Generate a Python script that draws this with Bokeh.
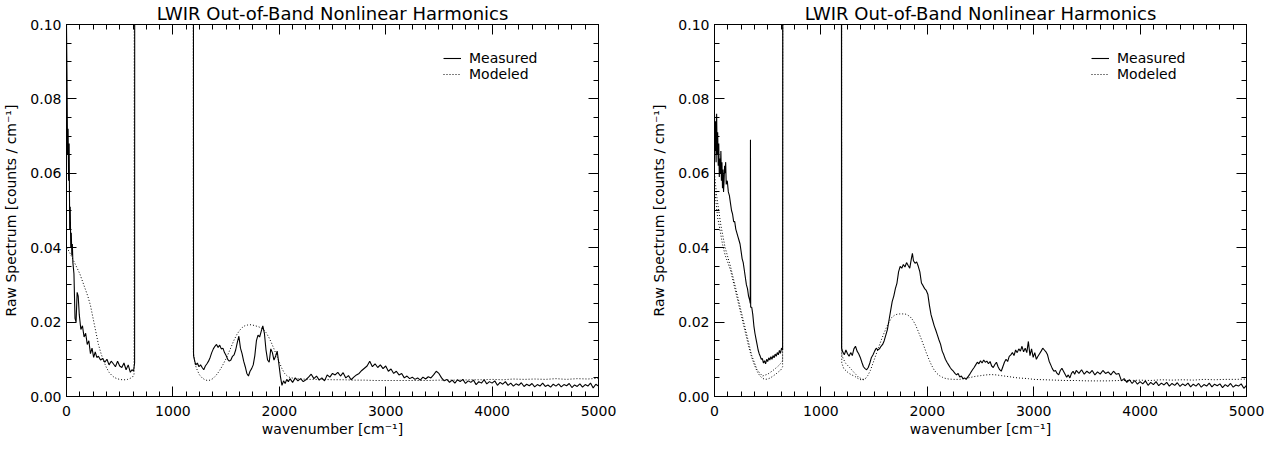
from bokeh.plotting import figure
from bokeh.models import (LinearAxis, SingleIntervalTicker, PrintfTickFormatter,
                          Range1d, Legend, LegendItem)
from bokeh.layouts import row
from bokeh.embed import file_html
from bokeh.resources import INLINE

FONT = "DejaVu Sans"
TITLE = "LWIR Out-of-Band Nonlinear Harmonics"
XLABEL = "wavenumber [cm\u207b\u00b9]"
YLABEL = "Raw Spectrum [counts / cm\u207b\u00b9]"
LEGEND_LABELS = ["Measured", "Modeled"]
X_TICKS_MAJOR = 1000
Y_TICKS_MAJOR = 0.02

# ---------------- left panel: measured (wavenumber, counts) ----------------
meas_left = [
    (0, 0.100), (5, 0.085), (10, 0.065), (15, 0.072), (20, 0.058), (25, 0.068),
    (30, 0.045), (35, 0.051), (40, 0.040), (45, 0.044), (50, 0.038), (55, 0.041),
    (60, 0.036), (70, 0.033), (80, 0.021), (90, 0.020), (100, 0.028), (110, 0.027),
    (120, 0.022), (135, 0.018), (150, 0.019), (165, 0.016), (180, 0.017), (195, 0.014),
    (210, 0.015), (225, 0.0115), (240, 0.013), (255, 0.0105), (270, 0.012), (285, 0.0105),
    (300, 0.0108), (320, 0.0098), (340, 0.0102), (360, 0.0092), (380, 0.0100), (400, 0.0085),
    (420, 0.0095), (440, 0.0088), (460, 0.0080), (480, 0.0095), (500, 0.0082), (520, 0.0078),
    (540, 0.0090), (560, 0.0072), (580, 0.0085), (600, 0.0065), (615, 0.0072), (630, 0.0068),
    (640, 0.0090), (645, 0.5), (1190, 0.5),
    (1194, 0.011), (1205, 0.0095), (1215, 0.0085), (1230, 0.0090), (1245, 0.0080), (1260, 0.0085),
    (1275, 0.0078), (1290, 0.0072), (1305, 0.0082), (1320, 0.0088), (1335, 0.0095), (1350, 0.0105),
    (1365, 0.0118), (1380, 0.0128), (1395, 0.0135), (1410, 0.0140), (1425, 0.0132), (1440, 0.0138),
    (1455, 0.0128), (1470, 0.0130), (1485, 0.0118), (1500, 0.0110), (1515, 0.0100), (1530, 0.0095),
    (1545, 0.0098), (1560, 0.0108), (1575, 0.0112), (1590, 0.0125), (1605, 0.0145), (1620, 0.0162),
    (1635, 0.0130), (1650, 0.0115), (1665, 0.0095), (1680, 0.0080), (1695, 0.0062), (1710, 0.0055),
    (1725, 0.0068), (1740, 0.0075), (1755, 0.0085), (1770, 0.0110), (1785, 0.0150), (1800, 0.0165),
    (1815, 0.0160), (1830, 0.0175), (1845, 0.0190), (1860, 0.0170), (1875, 0.0125), (1890, 0.0098),
    (1905, 0.0092), (1920, 0.0128), (1935, 0.0118), (1950, 0.0098), (1965, 0.0108), (1980, 0.0122),
    (1995, 0.0090), (2010, 0.0055), (2025, 0.0030), (2040, 0.0042), (2055, 0.0035), (2070, 0.0046),
    (2085, 0.0040), (2100, 0.0048), (2125, 0.0038), (2150, 0.0050), (2175, 0.0042), (2200, 0.0048),
    (2225, 0.0040), (2250, 0.0045), (2275, 0.0052), (2300, 0.0060), (2325, 0.0048), (2350, 0.0055),
    (2375, 0.0044), (2400, 0.0050), (2425, 0.0042), (2450, 0.0058), (2475, 0.0052), (2500, 0.0062),
    (2525, 0.0058), (2550, 0.0065), (2575, 0.0055), (2600, 0.0064), (2625, 0.0050), (2650, 0.0056),
    (2675, 0.0045), (2700, 0.0052), (2725, 0.0058), (2750, 0.0062), (2775, 0.0070), (2800, 0.0076),
    (2825, 0.0082), (2850, 0.0095), (2875, 0.0080), (2900, 0.0088), (2925, 0.0078), (2950, 0.0085),
    (2975, 0.0075), (3000, 0.0082), (3025, 0.0068), (3050, 0.0074), (3075, 0.0062), (3100, 0.0068),
    (3125, 0.0058), (3150, 0.0062), (3175, 0.0050), (3200, 0.0055), (3225, 0.0048), (3250, 0.0052),
    (3275, 0.0046), (3300, 0.0050), (3325, 0.0044), (3350, 0.0052), (3375, 0.0047), (3400, 0.0053),
    (3425, 0.0050), (3450, 0.0058), (3475, 0.0068), (3500, 0.0062), (3525, 0.0050), (3550, 0.0042),
    (3575, 0.0046), (3600, 0.0038), (3625, 0.0044), (3650, 0.0036), (3675, 0.0045), (3700, 0.0040),
    (3725, 0.0046), (3750, 0.0035), (3775, 0.0042), (3800, 0.0038), (3825, 0.0044), (3850, 0.0032),
    (3875, 0.0040), (3900, 0.0036), (3925, 0.0045), (3950, 0.0034), (3975, 0.0040), (4000, 0.0036),
    (4025, 0.0042), (4050, 0.0030), (4075, 0.0038), (4100, 0.0033), (4125, 0.0040), (4150, 0.0030),
    (4175, 0.0036), (4200, 0.0028), (4225, 0.0034), (4250, 0.0030), (4275, 0.0037), (4300, 0.0027),
    (4325, 0.0033), (4350, 0.0029), (4375, 0.0035), (4400, 0.0026), (4425, 0.0032), (4450, 0.0028),
    (4475, 0.0036), (4500, 0.0027), (4525, 0.0031), (4550, 0.0025), (4575, 0.0033), (4600, 0.0028),
    (4625, 0.0034), (4650, 0.0026), (4675, 0.0032), (4700, 0.0029), (4725, 0.0035), (4750, 0.0024),
    (4775, 0.0031), (4800, 0.0027), (4825, 0.0034), (4850, 0.0025), (4875, 0.0032), (4900, 0.0028),
    (4925, 0.0036), (4950, 0.0023), (4975, 0.0033), (5000, 0.0028),
]

# ---------------- left panel: modeled ----------------
model_left = [
    (0, 0.040), (25, 0.039), (50, 0.0375), (75, 0.036), (100, 0.0345), (125, 0.033),
    (150, 0.031), (175, 0.029), (200, 0.027), (225, 0.0245), (250, 0.021), (275, 0.0175),
    (300, 0.014), (325, 0.0115), (350, 0.0095), (375, 0.0078), (400, 0.0065), (425, 0.0057),
    (450, 0.0051), (475, 0.0048), (500, 0.0046), (525, 0.0045), (550, 0.0045), (575, 0.0046),
    (600, 0.0049), (620, 0.0052), (635, 0.0060), (643, 0.5), (1188, 0.5),
    (1192, 0.012), (1210, 0.0085), (1230, 0.0070), (1250, 0.0058), (1275, 0.0050), (1300, 0.0045),
    (1325, 0.0043), (1350, 0.0044), (1375, 0.0048), (1400, 0.0055), (1425, 0.0064), (1450, 0.0075),
    (1475, 0.0088), (1500, 0.0102), (1525, 0.0118), (1550, 0.0135), (1575, 0.0152), (1600, 0.0166),
    (1625, 0.0177), (1650, 0.0185), (1675, 0.0190), (1700, 0.0192), (1725, 0.0193), (1750, 0.0192),
    (1775, 0.0190), (1800, 0.0188), (1825, 0.0185), (1850, 0.0180), (1875, 0.0172), (1900, 0.0160),
    (1925, 0.0145), (1950, 0.0128), (1975, 0.0110), (2000, 0.0092), (2025, 0.0075), (2050, 0.0062),
    (2075, 0.0055), (2100, 0.0051), (2150, 0.0048), (2200, 0.0047), (2300, 0.0046), (2400, 0.0046),
    (2500, 0.0045), (2600, 0.0045), (2700, 0.0044), (2800, 0.0044), (2900, 0.0043), (3000, 0.0043),
    (3100, 0.0043), (3200, 0.0043), (3300, 0.0043), (3400, 0.0043), (3500, 0.0044), (3600, 0.0044),
    (3700, 0.0044), (3800, 0.0045), (3900, 0.0045), (4000, 0.0046), (4100, 0.0045), (4200, 0.0047),
    (4300, 0.0046), (4400, 0.0047), (4500, 0.0046), (4600, 0.0048), (4700, 0.0046), (4800, 0.0048),
    (4900, 0.0047), (5000, 0.0049),
]

# ---------------- right panel: measured ----------------
meas_right = [
    (0, 0.076), (5, 0.066), (10, 0.074), (15, 0.063), (20, 0.076), (25, 0.065), (30, 0.071),
    (35, 0.062), (40, 0.068), (45, 0.059), (50, 0.064), (55, 0.060), (60, 0.066), (65, 0.058),
    (70, 0.063), (75, 0.056), (80, 0.061), (85, 0.055), (90, 0.058), (95, 0.062), (100, 0.060),
    (105, 0.063), (110, 0.057), (120, 0.058), (130, 0.055), (140, 0.054), (150, 0.052), (160, 0.050),
    (170, 0.049), (180, 0.047), (190, 0.047), (200, 0.045), (210, 0.044), (220, 0.043), (230, 0.042),
    (240, 0.041), (250, 0.039), (260, 0.037), (270, 0.036), (280, 0.034), (290, 0.032), (300, 0.030),
    (310, 0.029), (320, 0.027), (330, 0.026), (336, 0.025), (338, 0.069), (340, 0.024), (350, 0.024),
    (360, 0.022), (370, 0.019), (380, 0.017), (390, 0.0155), (400, 0.014), (410, 0.0125), (420, 0.0115),
    (430, 0.0108), (440, 0.0100), (450, 0.0102), (460, 0.0090), (470, 0.0096), (480, 0.0088),
    (490, 0.0100), (500, 0.0094), (510, 0.0104), (520, 0.0098), (530, 0.0107), (540, 0.0100),
    (550, 0.0110), (560, 0.0104), (570, 0.0114), (580, 0.0108), (590, 0.0118), (600, 0.0112),
    (610, 0.0124), (620, 0.0116), (630, 0.0130), (640, 0.0125), (648, 0.5), (1190, 0.5),
    (1194, 0.013), (1205, 0.0120), (1220, 0.0112), (1235, 0.0125), (1250, 0.0115), (1265, 0.0108),
    (1280, 0.0118), (1295, 0.0110), (1310, 0.0128), (1325, 0.0135), (1340, 0.0122), (1355, 0.0115),
    (1370, 0.0105), (1385, 0.0092), (1400, 0.0080), (1415, 0.0075), (1430, 0.0072), (1445, 0.0078),
    (1460, 0.0090), (1475, 0.0105), (1490, 0.0112), (1505, 0.0122), (1520, 0.0130), (1535, 0.0125),
    (1550, 0.0128), (1565, 0.0135), (1580, 0.0140), (1595, 0.0150), (1610, 0.0165), (1625, 0.0180),
    (1640, 0.0205), (1655, 0.0230), (1670, 0.0255), (1685, 0.0270), (1700, 0.0290), (1715, 0.0305),
    (1730, 0.0335), (1745, 0.0350), (1760, 0.0345), (1775, 0.0355), (1790, 0.0348), (1805, 0.0360),
    (1820, 0.0352), (1835, 0.0345), (1850, 0.0370), (1860, 0.0385), (1870, 0.0365), (1885, 0.0358),
    (1900, 0.0362), (1915, 0.0350), (1930, 0.0335), (1945, 0.0305), (1960, 0.0298), (1975, 0.0290),
    (1990, 0.0285), (2005, 0.0275), (2020, 0.0245), (2035, 0.0220), (2050, 0.0205), (2065, 0.0190),
    (2080, 0.0178), (2095, 0.0165), (2110, 0.0152), (2125, 0.0140), (2140, 0.0122), (2155, 0.0112),
    (2170, 0.0100), (2185, 0.0092), (2200, 0.0085), (2215, 0.0078), (2230, 0.0072), (2245, 0.0068),
    (2260, 0.0062), (2275, 0.0058), (2290, 0.0062), (2305, 0.0052), (2320, 0.0055), (2335, 0.0048),
    (2350, 0.0050), (2365, 0.0046), (2380, 0.0052), (2395, 0.0058), (2410, 0.0065), (2425, 0.0072),
    (2440, 0.0078), (2455, 0.0085), (2470, 0.0092), (2485, 0.0088), (2500, 0.0096), (2515, 0.0090),
    (2530, 0.0098), (2545, 0.0092), (2560, 0.0095), (2575, 0.0088), (2590, 0.0094), (2605, 0.0082),
    (2620, 0.0078), (2635, 0.0086), (2650, 0.0092), (2665, 0.0080), (2680, 0.0072), (2695, 0.0068),
    (2710, 0.0080), (2725, 0.0092), (2740, 0.0100), (2755, 0.0094), (2770, 0.0108), (2785, 0.0112),
    (2800, 0.0118), (2815, 0.0110), (2830, 0.0125), (2845, 0.0118), (2860, 0.0128), (2875, 0.0122),
    (2890, 0.0135), (2905, 0.0120), (2920, 0.0130), (2935, 0.0118), (2950, 0.0148), (2965, 0.0110),
    (2980, 0.0128), (2995, 0.0105), (3010, 0.0118), (3025, 0.0100), (3040, 0.0108), (3055, 0.0115),
    (3070, 0.0122), (3085, 0.0130), (3100, 0.0125), (3115, 0.0120), (3130, 0.0112), (3145, 0.0095),
    (3160, 0.0085), (3175, 0.0075), (3190, 0.0068), (3205, 0.0070), (3220, 0.0062), (3235, 0.0058),
    (3250, 0.0070), (3265, 0.0076), (3280, 0.0068), (3295, 0.0060), (3310, 0.0052), (3325, 0.0058),
    (3340, 0.0050), (3355, 0.0062), (3370, 0.0068), (3385, 0.0060), (3400, 0.0070), (3425, 0.0062),
    (3450, 0.0072), (3475, 0.0060), (3500, 0.0068), (3525, 0.0062), (3550, 0.0070), (3575, 0.0058),
    (3600, 0.0066), (3625, 0.0060), (3650, 0.0070), (3675, 0.0062), (3700, 0.0066), (3725, 0.0058),
    (3750, 0.0068), (3775, 0.0060), (3800, 0.0062), (3825, 0.0042), (3850, 0.0048), (3875, 0.0038),
    (3900, 0.0045), (3925, 0.0035), (3950, 0.0043), (3975, 0.0033), (4000, 0.0040), (4025, 0.0034),
    (4050, 0.0042), (4075, 0.0030), (4100, 0.0038), (4125, 0.0032), (4150, 0.0040), (4175, 0.0029),
    (4200, 0.0036), (4225, 0.0031), (4250, 0.0038), (4275, 0.0028), (4300, 0.0035), (4325, 0.0030),
    (4350, 0.0037), (4375, 0.0027), (4400, 0.0034), (4425, 0.0029), (4450, 0.0036), (4475, 0.0026),
    (4500, 0.0033), (4525, 0.0028), (4550, 0.0035), (4575, 0.0025), (4600, 0.0032), (4625, 0.0028),
    (4650, 0.0036), (4675, 0.0026), (4700, 0.0033), (4725, 0.0029), (4750, 0.0034), (4775, 0.0024),
    (4800, 0.0032), (4825, 0.0027), (4850, 0.0035), (4875, 0.0025), (4900, 0.0031), (4925, 0.0028),
    (4950, 0.0034), (4975, 0.0022), (5000, 0.0030),
]

# ---------------- right panel: modeled ----------------
model_right = [
    (0, 0.056), (15, 0.052), (30, 0.048), (50, 0.045), (75, 0.041), (100, 0.038), (125, 0.036),
    (150, 0.034), (175, 0.031), (200, 0.028), (225, 0.025), (250, 0.022), (275, 0.019), (300, 0.016),
    (325, 0.013), (350, 0.0105), (375, 0.0085), (400, 0.0068), (425, 0.0056), (450, 0.0049),
    (475, 0.0046), (500, 0.0047), (525, 0.0050), (550, 0.0055), (575, 0.0060), (600, 0.0066),
    (625, 0.0072), (640, 0.0080), (648, 0.5), (1192, 0.5),
    (1196, 0.009), (1215, 0.0075), (1240, 0.0068), (1265, 0.0062), (1290, 0.0058), (1315, 0.0055),
    (1340, 0.0050), (1365, 0.0046), (1390, 0.0044), (1415, 0.0047), (1440, 0.0056), (1465, 0.0070),
    (1490, 0.0090), (1515, 0.0110), (1540, 0.0130), (1565, 0.0150), (1590, 0.0168), (1615, 0.0185),
    (1640, 0.0200), (1665, 0.0212), (1690, 0.0218), (1715, 0.0221), (1740, 0.0222), (1765, 0.0222),
    (1790, 0.0222), (1815, 0.0219), (1840, 0.0214), (1865, 0.0205), (1890, 0.0192), (1915, 0.0175),
    (1940, 0.0157), (1965, 0.0138), (1990, 0.0118), (2015, 0.0100), (2040, 0.0084), (2065, 0.0071),
    (2090, 0.0062), (2115, 0.0056), (2140, 0.0052), (2165, 0.0049), (2200, 0.0047), (2250, 0.0046),
    (2300, 0.0046), (2350, 0.0048), (2400, 0.0051), (2450, 0.0054), (2500, 0.0056), (2550, 0.0058),
    (2600, 0.0059), (2650, 0.0058), (2700, 0.0056), (2750, 0.0054), (2800, 0.0052), (2850, 0.0050),
    (2900, 0.0049), (2950, 0.0048), (3000, 0.0046), (3100, 0.0045), (3200, 0.0044), (3300, 0.0043),
    (3400, 0.0043), (3500, 0.0042), (3600, 0.0042), (3700, 0.0042), (3800, 0.0043), (3900, 0.0043),
    (4000, 0.0044), (4100, 0.0043), (4200, 0.0045), (4300, 0.0044), (4400, 0.0045), (4500, 0.0044),
    (4600, 0.0046), (4700, 0.0045), (4800, 0.0046), (4900, 0.0046), (5000, 0.0047),
]

# second modeled trace visible near the band edges of the right panel
model_right_b = [
    (0, 0.060), (20, 0.054), (40, 0.050), (60, 0.046), (80, 0.043), (100, 0.040), (150, 0.035),
    (200, 0.029), (250, 0.023), (300, 0.017), (350, 0.011), (400, 0.0072), (450, 0.0055),
    (500, 0.0060), (550, 0.0070), (600, 0.0082), (640, 0.0095), (647, 0.5), (1193, 0.5),
    (1197, 0.0110), (1230, 0.0090), (1270, 0.0078), (1310, 0.0065), (1350, 0.0053), (1390, 0.0046),
    (1420, 0.0048),
]


def style_axis(ax, labels):
    ax.axis_line_color = "black"
    ax.axis_line_width = 1
    ax.major_tick_in = 10
    ax.major_tick_out = 0
    ax.minor_tick_in = 5
    ax.minor_tick_out = 0
    ax.major_tick_line_color = "black"
    ax.minor_tick_line_color = "black"
    ax.major_label_text_font = FONT
    ax.major_label_text_font_size = "14px"
    ax.major_label_text_color = "black"
    ax.axis_label_text_font = FONT
    ax.axis_label_text_font_size = "14px"
    ax.axis_label_text_font_style = "normal"
    ax.axis_label_text_color = "black"
    if not labels:
        ax.major_label_text_font_size = "1px"
        ax.major_label_text_color = None
        ax.major_label_standoff = 0


def make_panel(meas, models, width, border_left, border_right):
    p = figure(width=width, height=439, output_backend="svg", toolbar_location=None,
               x_range=Range1d(0, 5000), y_range=Range1d(0, 0.10),
               x_axis_type=None, y_axis_type=None,
               min_border_left=border_left, min_border_right=border_right,
               min_border_top=24, min_border_bottom=40,
               background_fill_color="white", border_fill_color="white")
    p.outline_line_color = "black"
    p.grid.visible = False

    p.title.text = TITLE
    p.title.align = "center"
    p.title.text_font = FONT
    p.title.text_font_size = "18px"
    p.title.text_font_style = "normal"
    p.title.text_color = "black"
    p.title.standoff = 1

    for side, labels in (("below", True), ("above", False)):
        ax = LinearAxis(ticker=SingleIntervalTicker(interval=X_TICKS_MAJOR, num_minor_ticks=8))
        style_axis(ax, labels)
        if labels:
            ax.axis_label = XLABEL
            ax.major_label_standoff = 9
            ax.axis_label_standoff = 2
        p.add_layout(ax, side)
    for side, labels in (("left", True), ("right", False)):
        ax = LinearAxis(ticker=SingleIntervalTicker(interval=Y_TICKS_MAJOR, num_minor_ticks=4),
                        formatter=PrintfTickFormatter(format="%.2f"))
        style_axis(ax, labels)
        if labels:
            ax.axis_label = YLABEL
            ax.major_label_standoff = 5
            ax.axis_label_standoff = 8
        p.add_layout(ax, side)

    mod_renderers = []
    for model in models:
        mx = [a for a, _ in model]
        my = [b for _, b in model]
        mod_renderers.append(p.line(mx, my, line_color="black", line_width=1, line_dash="1 2"))
    rx = [a for a, _ in meas]
    ry = [b for _, b in meas]
    r_meas = p.line(rx, ry, line_color="black", line_width=1.1)

    leg = Legend(items=[LegendItem(label=LEGEND_LABELS[0], renderers=[r_meas]),
                        LegendItem(label=LEGEND_LABELS[1], renderers=[mod_renderers[0]])],
                 location=(377, 314), border_line_color=None, background_fill_alpha=0,
                 padding=0, margin=0, spacing=0, glyph_width=18, glyph_height=12,
                 label_height=12, label_standoff=8, label_text_font=FONT,
                 label_text_font_size="14px", label_text_color="black")
    p.add_layout(leg)
    return p


p1 = make_panel(meas_left, [model_left], 640, 66, 42)
p2 = make_panel(meas_right, [model_right, model_right_b], 624, 74, 18)
layout = row(p1, p2)

open("out.html", "w").write(file_html(layout, INLINE))
